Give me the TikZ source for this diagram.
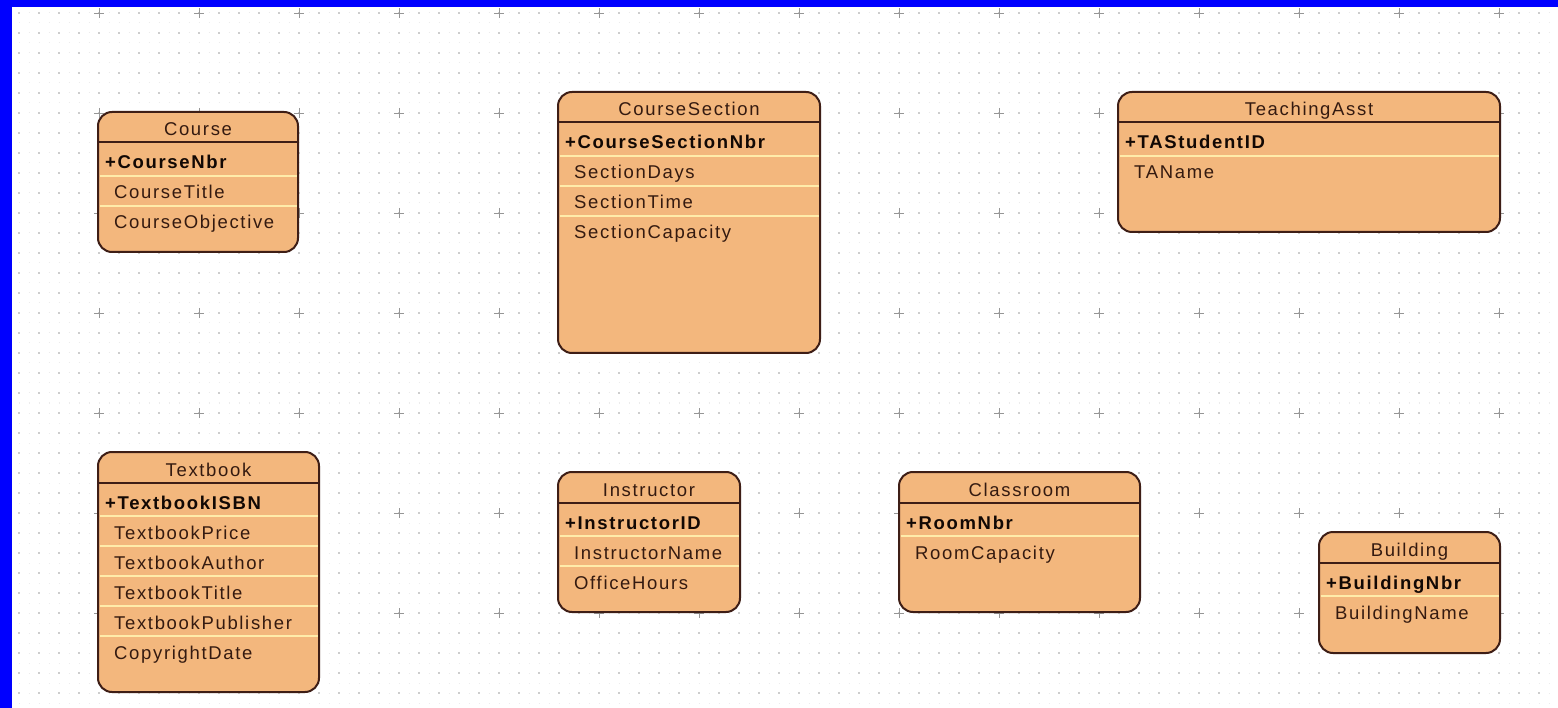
\documentclass[tikz,border=0pt]{standalone}
\usepackage{fontspec}
\newfontfamily\erfont{Liberation Sans}[LetterSpace=9]
\definecolor{efill}{RGB}{243,183,125}
\definecolor{eborder}{RGB}{62,30,22}
\definecolor{esep}{RGB}{255,236,170}
\definecolor{etext}{RGB}{52,26,16}
\definecolor{ekeytext}{RGB}{18,8,4}
\definecolor{gridfine}{RGB}{236,236,236}
\definecolor{griddot}{RGB}{205,205,205}
\definecolor{gridplus}{RGB}{150,150,150}
\definecolor{frameblue}{RGB}{0,0,255}
\tikzset{
  ebox/.style={draw=eborder, line width=2pt, fill=efill, rounded corners=14pt, inner sep=0pt},
  hline/.style={draw=eborder, line width=2pt},
  sepline/.style={draw=esep, line width=1.4pt},
  etitle/.style={anchor=base, inner sep=0pt, text=etext, font=\erfont\fontsize{18.5}{20}\selectfont},
  ekey/.style={anchor=base west, inner sep=0pt, text=ekeytext, font=\erfont\bfseries\fontsize{18.5}{20}\selectfont},
  eattr/.style={anchor=base west, inner sep=0pt, text=etext, font=\erfont\fontsize{18.5}{20}\selectfont},
}
\newcommand\erentity[8]{%
  \node[ebox, minimum width={#4-#2}, minimum height={#5-#3}] (#1) at ({(#2+#4)/2},{(#3+#5)/2}) {};
  \node[etitle] (#1-title) at ({(#2+#4)/2},{#3+24}) {#6};
  \draw[hline] (#2,{#3+30.5}) -- (#4,{#3+30.5});
  \node[ekey] (#1-key) at ({#2+7},{#3+57}) {+#7};
  \foreach \a [count=\i] in {#8} {
    \draw[sepline] ({#2+1.5},{#3+34+30*\i}) -- ({#4-1.5},{#3+34+30*\i});
    \node[eattr] (#1-a\i) at ({#2+16},{#3+57+30*\i}) {\a};
  }%
}
\begin{document}
\begin{tikzpicture}[x=1pt, y=-1pt]
\useasboundingbox (0,0) rectangle (1558,708);
\fill[white] (0,0) rectangle (1558,708);
% fine dot texture
\foreach \y in {3,13,...,703} {
  \draw[gridfine, line width=1pt, dash pattern=on 1pt off 9pt] (8.5,\y) -- (1558,\y);
}
% dot grid
\foreach \y in {13,33,...,703} {
  \draw[griddot, line width=1.3pt, dash pattern=on 1.3pt off 18.7pt] (18.35,\y) -- (1558,\y);
}
% plus marks
\foreach \x in {99,199,...,1499} {
  \foreach \y in {13,113,...,613} {
    \draw[gridplus, line width=0.9pt] (\x-5,\y) -- (\x+5,\y) (\x,\y-5) -- (\x,\y+5);
  }
}
\erentity{course}{98}{112}{298}{252}{Course}{CourseNbr}{CourseTitle,CourseObjective}
\erentity{section}{558}{92}{820}{353}{CourseSection}{CourseSectionNbr}{SectionDays,SectionTime,SectionCapacity}
\erentity{ta}{1118}{92}{1500}{232}{TeachingAsst}{TAStudentID}{TAName}
\erentity{textbook}{98}{452}{319}{692}{Textbook}{TextbookISBN}{TextbookPrice,TextbookAuthor,TextbookTitle,TextbookPublisher,CopyrightDate}
\erentity{instructor}{558}{472}{740}{612}{Instructor}{InstructorID}{InstructorName,OfficeHours}
\erentity{classroom}{899}{472}{1140}{612}{Classroom}{RoomNbr}{RoomCapacity}
\erentity{building}{1319}{532}{1500}{653}{Building}{BuildingNbr}{BuildingName}
% blue frame
\fill[frameblue] (0,0) rectangle (12,708);
\fill[frameblue] (0,0) rectangle (1558,7.5);
\end{tikzpicture}
\end{document}
